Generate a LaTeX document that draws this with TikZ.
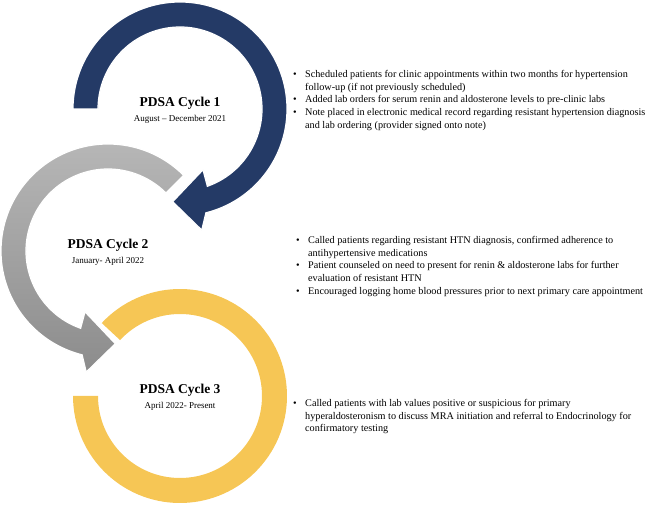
\documentclass[tikz,border=0pt]{standalone}
\usepackage{fontspec}
\setmainfont{Liberation Serif}
\definecolor{navy}{HTML}{243A66}
\definecolor{ygold}{HTML}{F6C655}
\definecolor{glight}{HTML}{B8B8B8}
\definecolor{gdark}{HTML}{8C8C8C}
\begin{document}
\begin{tikzpicture}[x=1pt,y=1pt,
  ringshape/.style={draw=white,line width=1.2pt,line join=miter},
  ttl/.style={font=\fontsize{13.5}{16}\selectfont\bfseries,inner sep=0},
  dte/.style={font=\fontsize{9}{10}\selectfont,inner sep=0},
  blist/.style={anchor=north west,align=left,inner sep=0,font=\fontsize{10.2}{12.8}\selectfont}]
\useasboundingbox (0,0) rectangle (650,506);
\coordinate (c1) at (180,397);
\coordinate (c2) at (108,255);
\coordinate (c3) at (180,110);
% ring 3 (yellow)
\begin{scope}[shift={(c3)}]
\fill[ygold] (137:107) arc[start angle=137,end angle=-180,radius=107]
  -- (180:82) arc[start angle=-180,end angle=137,radius=82] -- cycle;
\end{scope}
% ring 2 (gray)
\begin{scope}[shift={(c2)}]
\shade[top color=glight,bottom color=gdark,ringshape]
  (45:107) arc[start angle=45,end angle=256,radius=107]
  -- (259.8:123) -- (274.5:93) -- (249.3:65) -- (250.5:82)
  arc[start angle=250.5,end angle=45,radius=82] -- cycle;
\end{scope}
% ring 1 (navy)
\begin{scope}[shift={(c1)}]
\fill[navy,ringshape] (180:107) arc[start angle=180,end angle=-76,radius=107]
  -- (-79.8:123) -- (-94.5:93) -- (-69.3:65) -- (-70.5:82)
  arc[start angle=-70.5,end angle=180,radius=82] -- cycle;
\end{scope}
% titles
\node[ttl] (t1) at ([yshift=6]c1) {PDSA Cycle 1};
\node[dte] (d1) at ([yshift=-10]c1) {August -- December 2021};
\node[ttl] (t2) at ([yshift=6]c2) {PDSA Cycle 2};
\node[dte] (d2) at ([yshift=-10]c2) {January- April 2022};
\node[ttl] (t3) at ([yshift=6]c3) {PDSA Cycle 3};
\node[dte] (d3) at ([yshift=-10]c3) {April 2022- Present};
% bullet lists
\node[blist] (b1) at (293,436) {%
\makebox[12pt][l]{\textbullet}Scheduled patients for clinic appointments within two months for hypertension\\
\hspace*{12pt}follow-up (if not previously scheduled)\\
\makebox[12pt][l]{\textbullet}Added lab orders for serum renin and aldosterone levels to pre-clinic labs\\
\makebox[12pt][l]{\textbullet}Note placed in electronic medical record regarding resistant hypertension diagnosis\\
\hspace*{12pt}and lab ordering (provider signed onto note)};
\node[blist] (b2) at (296,270) {%
\makebox[12pt][l]{\textbullet}Called patients regarding resistant HTN diagnosis, confirmed adherence to\\
\hspace*{12pt}antihypertensive medications\\
\makebox[12pt][l]{\textbullet}Patient counseled on need to present for renin \& aldosterone labs for further\\
\hspace*{12pt}evaluation of resistant HTN\\
\makebox[12pt][l]{\textbullet}Encouraged logging home blood pressures prior to next primary care appointment};
\node[blist] (b3) at (293,107) {%
\makebox[12pt][l]{\textbullet}Called patients with lab values positive or suspicious for primary\\
\hspace*{12pt}hyperaldosteronism to discuss MRA initiation and referral to Endocrinology for\\
\hspace*{12pt}confirmatory testing};
\end{tikzpicture}
\end{document}
